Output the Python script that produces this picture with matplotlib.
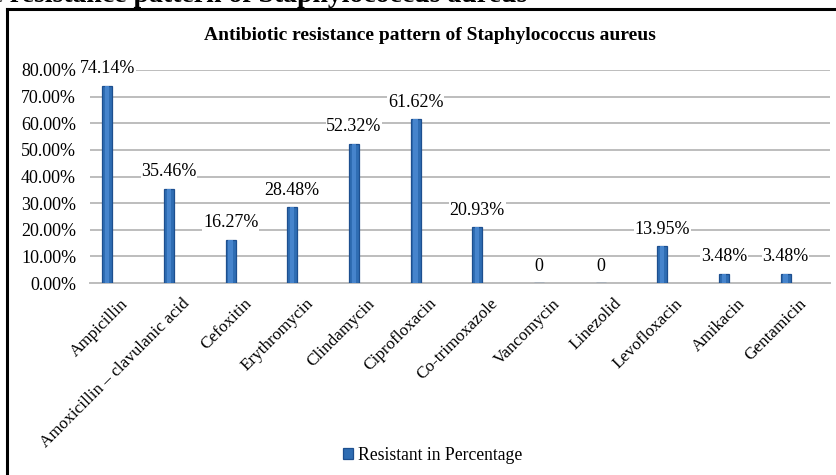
import matplotlib
matplotlib.use("Agg")
import matplotlib.pyplot as plt
from matplotlib.lines import Line2D
from matplotlib.ticker import FuncFormatter
import matplotlib.transforms as mtransforms

categories = ["Ampicillin", "Amoxicillin \u2013 clavulanic acid", "Cefoxitin", "Erythromycin",
              "Clindamycin", "Ciprofloxacin", "Co-trimoxazole", "Vancomycin", "Linezolid",
              "Levofloxacin", "Amikacin", "Gentamicin"]
resistant = [74.14, 35.46, 16.27, 28.48, 52.32, 61.62, 20.93, 0, 0, 13.95, 3.48, 3.48]
yticks = [0, 10, 20, 30, 40, 50, 60, 70, 80]
title = "Antibiotic resistance pattern of Staphylococcus aureus"
series_name = "Resistant in Percentage"

plt.rcParams['font.family'] = ['Liberation Serif', 'DejaVu Serif']

W, H = 837, 475
fig = plt.figure(figsize=(W / 100, H / 100), dpi=100)
fig.patch.set_facecolor('white')

# partially cut-off caption at the very top
fig.text(527 / W, 1 - 2 / H, title, ha='right', va='baseline', fontsize=20,
         fontweight='bold', color='black')

# frame
fig.add_artist(Line2D([7 / W, 7 / W], [0, 1 - 9 / H], color='black', lw=2.2, transform=fig.transFigure))
fig.add_artist(Line2D([7 / W, 1], [1 - 9 / H, 1 - 9 / H], color='black', lw=2.2, transform=fig.transFigure))

left, right, top, bottom = 90, 830, 70, 283
ax = fig.add_axes([left / W, 1 - bottom / H, (right - left) / W, (bottom - top) / H])
ax.set_facecolor('none')

x = list(range(len(categories)))
bars = ax.bar(x, resistant, width=0.165, color='#2F6DB3', edgecolor='#1D4F8F', linewidth=0.9,
              zorder=3, label=series_name)
# lighter centre to mimic the gradient fill
ax.bar(x, resistant, width=0.07, color='#4684CC', linewidth=0, zorder=3.5)

ax.set_ylim(0, 80)
ax.set_xlim(-0.28, 11.72)
ax.set_yticks(yticks)
ax.yaxis.set_major_formatter(FuncFormatter(lambda v, p: f"{v:.2f}%"))
ax.grid(axis='y', color='#BDBDBD', linewidth=1.4, zorder=0)
ax.set_axisbelow(True)
for s in ['top', 'right', 'left']:
    ax.spines[s].set_visible(False)
ax.spines['bottom'].set_color('#BDBDBD')
ax.spines['bottom'].set_linewidth(1.4)
ax.tick_params(axis='y', length=0, pad=10, labelsize=13)
ax.tick_params(axis='x', length=0, pad=4, labelsize=12.3)

ax.set_xticks(x)
ax.set_xticklabels(categories, rotation=45, ha='right', rotation_mode='anchor')
offset = mtransforms.ScaledTranslation(13 / 100, -7 / 100, fig.dpi_scale_trans)
for lab in ax.get_xticklabels():
    lab.set_transform(lab.get_transform() + offset)

for xi, v in zip(x, resistant):
    txt = "0" if v == 0 else f"{v:.2f}%"
    ax.annotate(txt, (xi, v), xytext=(0, 6), textcoords='offset points', ha='center',
                va='bottom', fontsize=13, color='black', zorder=4,
                bbox=dict(facecolor='white', edgecolor='none', pad=0.5))

fig.text(430 / W, 1 - 35 / H, title, ha='center', va='center', fontsize=14, fontweight='bold')

leg = fig.legend(handles=[bars], labels=[series_name], loc='center', bbox_to_anchor=(433 / W, 1 - 455 / H),
                 frameon=False, fontsize=12.7, handlelength=0.55, handleheight=0.55, handletextpad=0.3)

fig.savefig("out.png", dpi=100, facecolor='white')
